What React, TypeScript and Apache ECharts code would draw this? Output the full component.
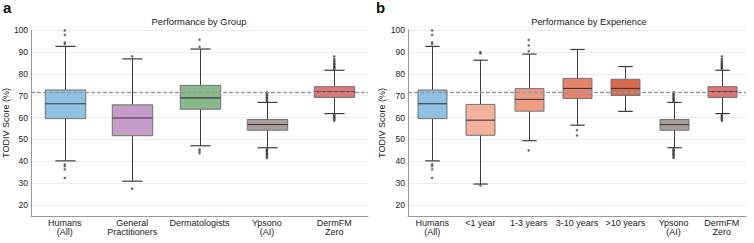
import React, { useEffect, useRef } from "react";
import * as echarts from "echarts";

// ---- Data ----
const categoriesA = ["Humans\n(All)", "General\nPractitioners", "Dermatologists", "Ypsono\n(AI)", "DermFM\nZero"];
const categoriesB = ["Humans\n(All)", "<1 year", "1-3 years", "3-10 years", ">10 years", "Ypsono\n(AI)", "DermFM\nZero"];

// [lower whisker, Q1, median, Q3, upper whisker]
const humansStats = [40.2, 59.5, 66.3, 72.6, 92.5];
const gpStats = [30.9, 51.7, 59.8, 65.8, 86.8];
const dermStats = [47.1, 63.8, 69.0, 74.7, 91.3];
const ypsonoStats = [46.2, 54.2, 56.8, 59.1, 66.9];
const dermfmStats = [61.8, 69.2, 71.8, 74.1, 81.6];
const lt1Stats = [29.6, 51.9, 58.8, 66.0, 86.2];
const y1to3Stats = [49.4, 62.9, 68.3, 73.2, 89.0];
const y3to10Stats = [56.5, 68.7, 73.3, 77.9, 91.1];
const gt10Stats = [62.8, 70.1, 73.3, 77.5, 83.3];

const humansOut = [99.8, 97.8, 94.3, 93.6, 38.6, 37.8, 36.3, 32.4];
const gpOut = [87.9, 27.5];
const dermOut = [95.6, 92.3, 45.4, 44.6, 43.7];
const ypsonoOut = [67.4, 67.9, 68.5, 68.9, 69.4, 70.1, 70.6, 71.1, 71.6, 45.7, 45.1, 44.8, 44.2, 43.6, 43.3, 42.7, 42.1, 41.5];
const dermfmOut = [82.2, 82.8, 83.1, 83.7, 84.3, 84.6, 85.3, 86.0, 86.7, 87.9, 61.2, 60.8, 60.1, 59.7, 59.1, 58.5];
const lt1Out = [89.9, 89.3, 29.0];
const y1to3Out = [95.5, 92.9, 90.3, 45.0];
const y3to10Out = [54.3, 51.8];
const gt10Out: number[] = [];

const colorsA = ["#8ec1e2", "#c59bc9", "#88b98b", "#ab9c9c", "#e57373"];
const colorsB = ["#8ec1e2", "#f4b19b", "#ee9d83", "#e5846a", "#d8694f", "#ab9c9c", "#e57373"];

const statsA = [humansStats, gpStats, dermStats, ypsonoStats, dermfmStats];
const statsB = [humansStats, lt1Stats, y1to3Stats, y3to10Stats, gt10Stats, ypsonoStats, dermfmStats];
const outA = [humansOut, gpOut, dermOut, ypsonoOut, dermfmOut];
const outB = [humansOut, lt1Out, y1to3Out, y3to10Out, gt10Out, ypsonoOut, dermfmOut];

const referenceLine = 71.7;
const yTicks = [20, 30, 40, 50, 60, 70, 80, 90, 100];

const FONT = "Liberation Sans, Arial, sans-serif";

const renderBox = (_params: any, api: any) => {
  const x = api.value(0);
  const lo = api.coord([x, api.value(1)]);
  const q1 = api.coord([x, api.value(2)]);
  const med = api.coord([x, api.value(3)]);
  const q3 = api.coord([x, api.value(4)]);
  const hi = api.coord([x, api.value(5)]);
  const band = api.size([1, 0])[0];
  const bw = band * 0.6;
  const cw = band * 0.3;
  const cx = Math.round(lo[0]) + 0.5;
  const color = api.visual("color");
  const wStyle = { stroke: "#3c3c3c", lineWidth: 1 };
  return {
    type: "group",
    children: [
      { type: "line", shape: { x1: cx, y1: hi[1], x2: cx, y2: q3[1] }, style: wStyle },
      { type: "line", shape: { x1: cx, y1: q1[1], x2: cx, y2: lo[1] }, style: wStyle },
      { type: "line", shape: { x1: cx - cw / 2, y1: hi[1], x2: cx + cw / 2, y2: hi[1] }, style: { stroke: "#3c3c3c", lineWidth: 1.2 } },
      { type: "line", shape: { x1: cx - cw / 2, y1: lo[1], x2: cx + cw / 2, y2: lo[1] }, style: { stroke: "#3c3c3c", lineWidth: 1.2 } },
      {
        type: "rect",
        shape: { x: cx - bw / 2, y: q3[1], width: bw, height: q1[1] - q3[1] },
        style: { fill: color, stroke: "#727272", lineWidth: 1 },
      },
      { type: "line", shape: { x1: cx - bw / 2, y1: med[1], x2: cx + bw / 2, y2: med[1] }, style: { stroke: "#383838", lineWidth: 1.1 } },
    ],
  };
};

const yAxisBase = (gridIndex: number) => ({
  type: "value",
  gridIndex,
  min: 15,
  max: 100,
  interval: 5,
  name: "TODIV Score (%)",
  nameLocation: "middle",
  nameGap: 17,
  nameTextStyle: { fontSize: 9, color: "#222", fontFamily: FONT },
  axisLine: { show: true, lineStyle: { color: "#999", width: 1 } },
  axisTick: { show: false },
  axisLabel: {
    fontSize: 8.5,
    color: "#222",
    fontFamily: FONT,
    margin: 3,
    formatter: (v: number) => (yTicks.indexOf(v) >= 0 ? String(v) : ""),
  },
  splitLine: { show: true, lineStyle: { color: ["rgba(0,0,0,0)", "#ececec"], width: 1 } },
});

const xAxisBase = (gridIndex: number, data: string[]) => ({
  type: "category",
  gridIndex,
  data,
  boundaryGap: true,
  axisLine: { show: true, lineStyle: { color: "#999", width: 1 } },
  axisTick: { show: false },
  axisLabel: { fontSize: 9, color: "#222", fontFamily: FONT, margin: 3, lineHeight: 8.5, interval: 0 },
  splitLine: { show: false },
});

export default function App() {
  const ref = useRef<HTMLDivElement>(null);
  useEffect(() => {
    if (!ref.current) return;
    const chart = echarts.init(ref.current, null, { renderer: "svg" });
    const boxDataA = statsA.map((s, i) => ({ value: [i, ...s], itemStyle: { color: colorsA[i] } }));
    const boxDataB = statsB.map((s, i) => ({ value: [i, ...s], itemStyle: { color: colorsB[i] } }));
    const outDataA = outA.flatMap((arr, i) => arr.map((v) => [i, v]));
    const outDataB = outB.flatMap((arr, i) => arr.map((v) => [i, v]));
    const markLine = {
      silent: true,
      symbol: "none",
      label: { show: false },
      lineStyle: { type: [4, 2], color: "#9a9a9a", width: 1.3 },
      data: [{ yAxis: referenceLine }],
    };
    chart.setOption({
      animation: false,
      backgroundColor: "#fff",
      textStyle: { fontFamily: FONT },
      title: [
        { text: "a", left: 3, top: 0, padding: 0, textStyle: { fontSize: 15, fontWeight: "bold", color: "#111", fontFamily: FONT } },
        { text: "b", left: 376, top: 0, padding: 0, textStyle: { fontSize: 15, fontWeight: "bold", color: "#111", fontFamily: FONT } },
        { text: "Performance by Group", left: 199, textAlign: "center", top: 17, padding: 0, textStyle: { fontSize: 9.4, fontWeight: "normal", color: "#222", fontFamily: FONT } },
        { text: "Performance by Experience", left: 589, textAlign: "center", top: 17, padding: 0, textStyle: { fontSize: 9.4, fontWeight: "normal", color: "#222", fontFamily: FONT } },
      ],
      grid: [
        { left: 29, right: 386, top: 30, bottom: 27 },
        { left: 408, right: 8, top: 30, bottom: 27 },
      ],
      xAxis: [xAxisBase(0, categoriesA), xAxisBase(1, categoriesB)],
      yAxis: [yAxisBase(0), yAxisBase(1)],
      series: [
        {
          type: "custom",
          xAxisIndex: 0,
          yAxisIndex: 0,
          renderItem: renderBox,
          encode: { x: 0, y: [1, 2, 3, 4, 5] },
          data: boxDataA,
          z: 2,
        },
        {
          type: "scatter",
          xAxisIndex: 0,
          yAxisIndex: 0,
          data: outDataA,
          symbolSize: 2.6,
          itemStyle: { color: "#333", opacity: 0.7 },
          z: 3,
          markLine,
        },
        {
          type: "custom",
          xAxisIndex: 1,
          yAxisIndex: 1,
          renderItem: renderBox,
          encode: { x: 0, y: [1, 2, 3, 4, 5] },
          data: boxDataB,
          z: 2,
        },
        {
          type: "scatter",
          xAxisIndex: 1,
          yAxisIndex: 1,
          data: outDataB,
          symbolSize: 2.6,
          itemStyle: { color: "#333", opacity: 0.7 },
          z: 3,
          markLine,
        },
      ],
    });
    return () => chart.dispose();
  }, []);
  return <div ref={ref} style={{ width: 754, height: 243, position: "absolute", left: 0, top: 0 }} />;
}
